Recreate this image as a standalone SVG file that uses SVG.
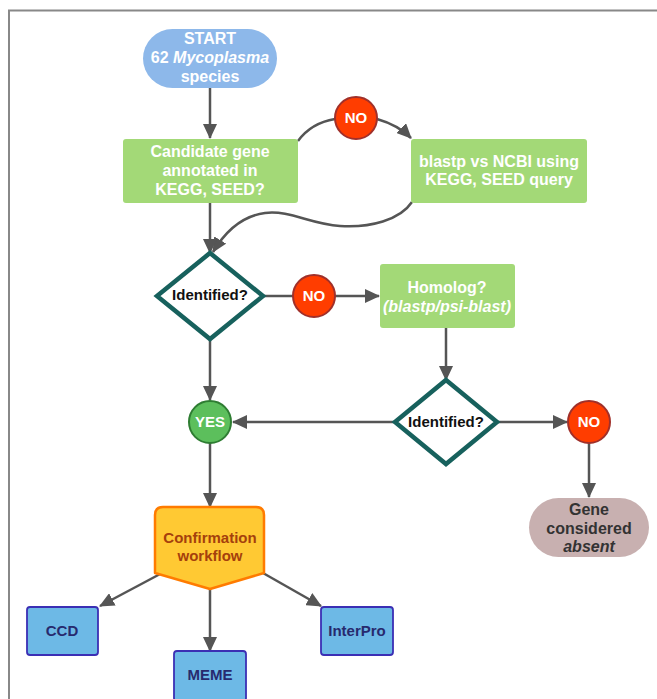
<svg xmlns="http://www.w3.org/2000/svg" width="657" height="699" viewBox="0 0 657 699">
<defs>
<marker id="ah" markerUnits="userSpaceOnUse" markerWidth="16" markerHeight="14" refX="14" refY="7" orient="auto">
<path d="M0,0 L15,7 L0,14 Z" fill="#555"/>
</marker>
<style>
.t{font-family:"Liberation Sans",Arial,sans-serif;font-weight:bold;font-size:15px;text-anchor:middle}
.b{font-size:16px}
.w{fill:#fff}
.c{fill:none;stroke:#555;stroke-width:2.5}
.a{marker-end:url(#ah)}
.green{fill:#a3d977}
.dia{fill:#fff;stroke:#17615d;stroke-width:4.5}
.no{fill:#ff3d00;stroke:#a0302a;stroke-width:2}
.blue{fill:#6db9e6;stroke:#3b2fb4;stroke-width:1.8}
.nv{fill:#272a6e}
</style>
</defs>
<rect width="657" height="699" fill="#fff"/>
<path d="M9,699 V10.5 H657" fill="none" stroke="#888" stroke-width="2"/>

<g id="connectors">
<line class="c a" x1="210" y1="88" x2="210" y2="138"/>
<path class="c" d="M298,141 Q311,123 335,119"/>
<path class="c a" d="M377,119 Q398,125 411,138"/>
<path class="c a" d="M412,202 C400,220 370,228 340,226 C310,224 290,210 265,213 C242,216 225,232 213,252"/>
<line class="c a" x1="210" y1="203" x2="210" y2="253"/>
<line class="c" x1="263" y1="296" x2="293" y2="296"/>
<line class="c a" x1="335" y1="296" x2="379" y2="296"/>
<line class="c a" x1="446" y1="328" x2="446" y2="380"/>
<line class="c a" x1="395" y1="422" x2="233" y2="422"/>
<line class="c a" x1="210" y1="339" x2="210" y2="400"/>
<line class="c a" x1="497" y1="422" x2="567" y2="422"/>
<line class="c a" x1="589" y1="443" x2="589" y2="497"/>
<line class="c a" x1="210" y1="443" x2="210" y2="507"/>
<line class="c a" x1="162" y1="573" x2="100" y2="606"/>
<line class="c a" x1="210" y1="589" x2="210" y2="651"/>
<line class="c a" x1="263" y1="573" x2="321" y2="606"/>
</g>

<g id="start">
<rect x="143" y="29" width="134" height="59" rx="29.5" fill="#8db8ea"/>
<text class="t b w" x="210" y="44">START</text>
<text class="t b w" x="210" y="63">62 <tspan font-style="italic">Mycoplasma</tspan></text>
<text class="t b w" x="210" y="82">species</text>
</g>

<g id="candidate">
<rect class="green" x="123" y="139" width="175" height="64" rx="3"/>
<text class="t b w" x="210" y="157">Candidate gene</text>
<text class="t b w" x="210" y="176">annotated in</text>
<text class="t b w" x="210" y="195">KEGG, SEED?</text>
</g>

<g id="no1">
<circle class="no" cx="356" cy="118" r="21"/>
<text class="t w" x="356" y="123">NO</text>
</g>

<g id="blastp">
<rect class="green" x="411" y="139" width="176" height="64" rx="3"/>
<text class="t b w" x="499" y="167">blastp vs NCBI using</text>
<text class="t b w" x="499" y="185">KEGG, SEED query</text>
</g>

<g id="identified1">
<path class="dia" d="M210,253 L263,296 L210,339 L157,296 Z"/>
<text class="t" x="210" y="300" font-size="14" fill="#111">Identified?</text>
</g>

<g id="no2">
<circle class="no" cx="314" cy="296" r="21"/>
<text class="t w" x="314" y="301">NO</text>
</g>

<g id="homolog">
<rect class="green" x="380" y="264" width="135" height="64" rx="3"/>
<text class="t b w" x="447" y="293">Homolog?</text>
<text class="t b w" x="447" y="312" font-style="italic">(blastp/psi-blast)</text>
</g>

<g id="identified2">
<path class="dia" d="M446,380 L497,422 L446,464 L395,422 Z"/>
<text class="t" x="446" y="427" font-size="14" fill="#111">Identified?</text>
</g>

<g id="yes">
<circle cx="210" cy="422" r="21" fill="#5cbf5c" stroke="#2e7d32" stroke-width="2"/>
<text class="t w" x="210" y="427">YES</text>
</g>

<g id="no3">
<circle class="no" cx="589" cy="422" r="21"/>
<text class="t w" x="589" y="427">NO</text>
</g>

<g id="absent">
<rect x="529" y="498" width="120" height="59" rx="29.5" fill="#c8b0b0"/>
<text class="t b" x="589" y="515" fill="#333">Gene</text>
<text class="t b" x="589" y="534" fill="#333">considered</text>
<text class="t b" x="589" y="552" fill="#333" font-style="italic">absent</text>
</g>

<g id="confirmation">
<path d="M163,507 H256 Q264,507 264,515 V573 L210,589 L155,573 V515 Q155,507 163,507 Z" fill="#ffc933" stroke="#ff7b00" stroke-width="2.5" stroke-linejoin="round"/>
<text class="t" x="210" y="543" fill="#a5400c" font-size="15.5">Confirmation</text>
<text class="t" x="210" y="561" fill="#a5400c" font-size="15.5">workflow</text>
</g>

<g id="ccd">
<rect class="blue" x="27" y="607" width="71" height="48" rx="3"/>
<text class="t nv" x="62" y="636" font-size="14">CCD</text>
</g>

<g id="meme">
<rect class="blue" x="174" y="651" width="72" height="50" rx="3"/>
<text class="t nv" x="210" y="680" font-size="14">MEME</text>
</g>

<g id="interpro">
<rect class="blue" x="321" y="607" width="72" height="48" rx="3"/>
<text class="t nv" x="357" y="636" font-size="14">InterPro</text>
</g>
</svg>
